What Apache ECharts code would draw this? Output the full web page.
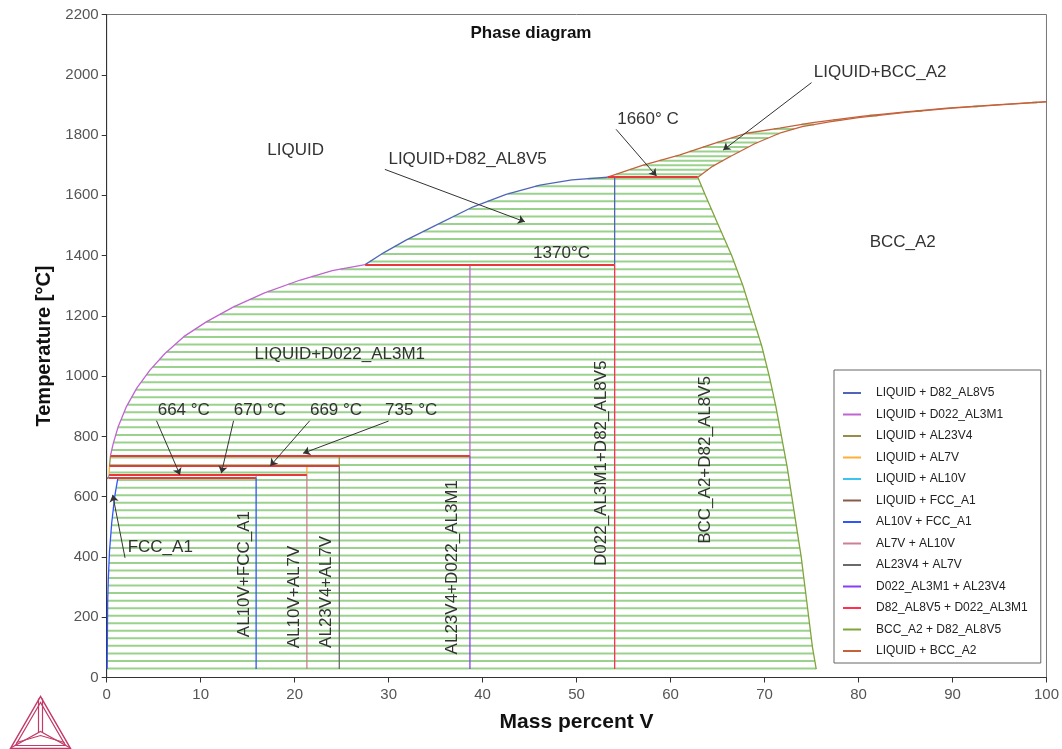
<!DOCTYPE html>
<html>
<head>
<meta charset="utf-8">
<script src="https://cdn.jsdelivr.net/npm/echarts@6/dist/echarts.min.js"></script>
<style>html,body{margin:0;padding:0;background:#fff}#chart{width:1062px;height:749px}</style>
</head>
<body>
<div id="chart"></div>
<script>
// ---- Al-V phase diagram data (x: mass percent V, y: temperature in °C) ----

// Compositions of the stoichiometric compounds
const AL10V = 15.9, AL7V = 21.3, AL23V4 = 24.75, D022 = 38.65, D82 = 54.05;
// Invariant temperatures
const T_EUT = 664, T_AL10V = 674, T_AL7V = 702, T_AL23V4 = 736, T_D022 = 1370, T_D82 = 1660;
// Lowest calculated temperature
const T_LOW = 28;

// Liquidus on the Al-rich side, through the low invariants
const liquidNearAl = [[0.0, 660], [0.2, 664], [0.25, 674], [0.3, 702], [0.4, 736]];
// Solubility limit of V in FCC_A1
const fccSolvus = [[0.05, 28], [0.1, 250], [0.17, 324], [0.3, 420], [0.53, 512], [0.85, 600], [1.2, 664]];
// Liquidus of D022_AL3M1
const liquidusD022 = [[0.4, 736], [0.7, 777], [1.2, 830], [2.1, 899], [3.2, 960], [4.6, 1020], [6.2, 1075], [8.2, 1131], [10.6, 1180], [13.5, 1230], [16.8, 1276], [20.6, 1319], [24.0, 1350], [27.5, 1370]];
// Liquidus of D82_AL8V5
const liquidusD82 = [[27.5, 1370], [29.5, 1410], [31.9, 1452], [35.0, 1500], [39.0, 1562], [42.5, 1603], [46.1, 1634], [49.5, 1651], [53.3, 1660]];
// BCC_A2 boundary of the BCC_A2 + D82_AL8V5 field
const bccSolvus = [[75.5, 28], [75.1, 100], [74.7, 200], [74.3, 300], [73.9, 400], [73.4, 500], [72.9, 600], [72.4, 700], [71.8, 800], [71.2, 900], [70.5, 1000], [69.7, 1100], [68.7, 1200], [67.7, 1300], [66.5, 1400], [65.1, 1500], [63.7, 1600], [62.9, 1660]];
// Liquidus and solidus of BCC_A2
const liquidusBcc = [[53.3, 1660], [57.0, 1699], [61.0, 1734], [64.5, 1771], [68.1, 1806], [71.6, 1823], [75.1, 1841], [80.5, 1863], [85.0, 1877], [89.4, 1889], [95.0, 1901], [100, 1911]];
const solidusBcc = [[62.9, 1660], [64.5, 1697], [66.3, 1728], [69.0, 1772], [71.6, 1806], [74.0, 1828], [76.9, 1844], [80.0, 1858], [85.0, 1875], [90.0, 1889], [95.0, 1900], [100, 1910]];

// Tie-line temperatures
const tieTemps = [30, 55, 80, 105, 130, 155, 180, 205, 230, 255, 280, 305, 330, 355, 380, 405, 430, 455, 480, 505,
  530, 555, 580, 605, 630, 655, 680, 705, 730, 755, 780, 805, 830, 855, 880, 905, 930, 955, 980, 1005,
  1030, 1055, 1080, 1105, 1130, 1155, 1180, 1205, 1230, 1255, 1280, 1305, 1330, 1355, 1380, 1405, 1430,
  1455, 1480, 1505, 1530, 1555, 1580, 1605, 1630, 1655];
const bccLiquidTieTemps = [1670, 1685, 1700, 1715, 1730, 1745, 1760, 1775, 1790, 1805, 1820, 1835, 1850, 1865, 1880, 1895, 1908];

// Invariant lines: [temperature, left composition, right composition]
const invariants = [
  [T_EUT, 0.2, AL10V], [T_AL10V, 0.25, AL7V], [T_AL7V, 0.3, AL23V4],
  [T_AL23V4, 0.4, D022], [T_D022, 27.5, D82], [T_D82, 53.3, 62.9]
];

// Legend entries (phase pairs of the boundaries)
const pairNames = ['LIQUID + D82_AL8V5', 'LIQUID + D022_AL3M1', 'LIQUID + AL23V4', 'LIQUID + AL7V', 'LIQUID + AL10V',
  'LIQUID + FCC_A1', 'AL10V + FCC_A1', 'AL7V + AL10V', 'AL23V4 + AL7V', 'D022_AL3M1 + AL23V4',
  'D82_AL8V5 + D022_AL3M1', 'BCC_A2 + D82_AL8V5', 'LIQUID + BCC_A2'];
const pairColors = ['#4f66b8', '#c064d2', '#9a8c48', '#ffae3a', '#3cc4f0', '#8a5a48', '#2f55ff', '#cc7f90',
  '#6a6a6a', '#8a3cf8', '#ff3050', '#7fa53c', '#c4623c'];

// Boundary pieces, each tagged with its phase pair
const boundaries = [
  ['LIQUID + D82_AL8V5', liquidusD82],
  ['LIQUID + D82_AL8V5', [[D82, T_D022], [D82, T_D82]]],
  ['LIQUID + D022_AL3M1', liquidusD022],
  ['LIQUID + D022_AL3M1', [[D022, T_AL23V4], [D022, T_D022]]],
  ['LIQUID + AL23V4', liquidNearAl.slice(3, 5)],
  ['LIQUID + AL23V4', [[AL23V4, T_AL7V], [AL23V4, T_AL23V4]]],
  ['LIQUID + AL7V', liquidNearAl.slice(2, 4)],
  ['LIQUID + AL7V', [[AL7V, T_AL10V], [AL7V, T_AL7V]]],
  ['LIQUID + AL10V', liquidNearAl.slice(1, 3)],
  ['LIQUID + AL10V', [[AL10V, T_EUT], [AL10V, T_AL10V]]],
  ['LIQUID + FCC_A1', liquidNearAl.slice(0, 2)],
  ['AL10V + FCC_A1', fccSolvus],
  ['AL10V + FCC_A1', [[AL10V, T_LOW], [AL10V, T_EUT]]],
  ['AL7V + AL10V', [[AL7V, T_LOW], [AL7V, T_AL10V]]],
  ['AL23V4 + AL7V', [[AL23V4, T_LOW], [AL23V4, T_AL7V]]],
  ['D022_AL3M1 + AL23V4', [[D022, T_LOW], [D022, T_AL23V4]]],
  ['D82_AL8V5 + D022_AL3M1', [[D82, T_LOW], [D82, T_D022]]],
  ['BCC_A2 + D82_AL8V5', bccSolvus],
  ['LIQUID + BCC_A2', liquidusBcc],
  ['LIQUID + BCC_A2', solidusBcc]
];

// Two-phase fields (closed outlines) and the tie-lines drawn across them
const phaseRegions = [
  { poly: fccSolvus.concat([[AL10V, T_EUT], [AL10V, T_LOW]]), ties: tieTemps },
  { poly: [[0.2, T_EUT], [AL10V, T_EUT], [AL10V, T_AL10V], [0.25, T_AL10V]], ties: tieTemps },
  { poly: [[AL10V, T_LOW], [AL7V, T_LOW], [AL7V, T_AL10V], [AL10V, T_AL10V]], ties: tieTemps },
  { poly: [[0.25, T_AL10V], [AL7V, T_AL10V], [AL7V, T_AL7V], [0.3, T_AL7V]], ties: tieTemps },
  { poly: [[AL7V, T_LOW], [AL23V4, T_LOW], [AL23V4, T_AL7V], [AL7V, T_AL7V]], ties: tieTemps },
  { poly: [[0.3, T_AL7V], [AL23V4, T_AL7V], [AL23V4, T_AL23V4], [0.4, T_AL23V4]], ties: tieTemps },
  { poly: [[AL23V4, T_LOW], [D022, T_LOW], [D022, T_AL23V4], [AL23V4, T_AL23V4]], ties: tieTemps },
  { poly: liquidusD022.concat([[D022, T_D022], [D022, T_AL23V4]]), ties: tieTemps },
  { poly: [[D022, T_LOW], [D82, T_LOW], [D82, T_D022], [D022, T_D022]], ties: tieTemps },
  { poly: liquidusD82.concat([[D82, T_D82], [D82, T_D022]]), ties: tieTemps },
  { poly: [[D82, T_LOW]].concat(bccSolvus, [[D82, T_D82]]), ties: tieTemps },
  { poly: liquidusBcc.concat(solidusBcc.slice().reverse()), ties: bccLiquidTieTemps }
];

// Text annotations and pointer arrows (placed in data coordinates)
const annotationLayout = [
  { text: 'LIQUID', at: [20.1, 1750] },
  { text: 'LIQUID+D82_AL8V5', at: [38.4, 1721] },
  { text: '1660° C', at: [57.6, 1853] },
  { text: 'LIQUID+BCC_A2', at: [82.3, 2008] },
  { text: 'BCC_A2', at: [84.7, 1445] },
  { text: '1370°C', at: [48.4, 1408] },
  { text: 'LIQUID+D022_AL3M1', at: [24.8, 1073] },
  { text: '664 °C', at: [8.2, 885] },
  { text: '670 °C', at: [16.3, 885] },
  { text: '669 °C', at: [24.4, 885] },
  { text: '735 °C', at: [32.4, 885] },
  { text: 'FCC_A1', at: [5.7, 432] },
  { text: 'AL10V+FCC_A1', at: [14.6, 343], vertical: true },
  { text: 'AL10V+AL7V', at: [20.0, 267], vertical: true },
  { text: 'AL23V4+AL7V', at: [23.4, 284], vertical: true },
  { text: 'AL23V4+D022_AL3M1', at: [36.8, 366], vertical: true },
  { text: 'D022_AL3M1+D82_AL8V5', at: [52.6, 711], vertical: true },
  { text: 'BCC_A2+D82_AL8V5', at: [63.7, 722], vertical: true }
];
const arrowLayout = [
  [[75.0, 1974], [65.6, 1750]],
  [[54.2, 1819], [58.5, 1664]],
  [[29.6, 1686], [44.5, 1512]],
  [[5.3, 852], [7.8, 672]],
  [[13.5, 852], [12.2, 678]],
  [[21.6, 852], [17.4, 702]],
  [[30.0, 851], [20.9, 744]],
  [[1.95, 397], [0.64, 606]]
];

const FONT = '"Liberation Sans", Arial, Helvetica, sans-serif';
const TIE_COLOR = 'rgba(92, 180, 70, 0.62)';

// Crossings of a horizontal line at temperature t with a closed outline
function crossings(poly, t) {
  const xs = [];
  for (let i = 0; i < poly.length; i++) {
    const a = poly[i], b = poly[(i + 1) % poly.length];
    if ((a[1] <= t && b[1] > t) || (b[1] <= t && a[1] > t)) {
      xs.push(a[0] + (t - a[1]) * (b[0] - a[0]) / (b[1] - a[1]));
    }
  }
  return xs.sort((p, q) => p - q);
}

const series = [];

// Tie-lines
series.push({
  type: 'custom',
  name: 'tie-lines',
  silent: true,
  z: 1,
  clip: true,
  data: phaseRegions.map((r, i) => [i]),
  encode: { x: 0 },
  renderItem: function (params, api) {
    const region = phaseRegions[api.value(0)];
    const children = [];
    region.ties.forEach(function (t) {
      const xs = crossings(region.poly, t);
      for (let k = 0; k + 1 < xs.length; k += 2) {
        const p1 = api.coord([xs[k], t]);
        const p2 = api.coord([xs[k + 1], t]);
        children.push({
          type: 'line',
          shape: { x1: p1[0], y1: p1[1], x2: p2[0], y2: p2[1] },
          style: { stroke: TIE_COLOR, lineWidth: 2 }
        });
      }
    });
    return { type: 'group', children: children };
  }
});

// Phase boundaries
boundaries.forEach(function (b) {
  const color = pairColors[pairNames.indexOf(b[0])];
  series.push({
    type: 'line',
    name: b[0],
    data: b[1],
    showSymbol: false,
    symbol: 'none',
    z: 3,
    lineStyle: { color: color, width: 1.3 },
    itemStyle: { color: color },
    silent: true
  });
});

// Invariant lines
series.push({
  type: 'lines',
  name: 'invariants',
  coordinateSystem: 'cartesian2d',
  z: 4,
  silent: true,
  lineStyle: { color: '#e8383c', width: 2, opacity: 1 },
  data: invariants.map(v => ({ coords: [[v[1], v[0]], [v[2], v[0]]] }))
});

// Pointer arrows
series.push({
  type: 'lines',
  name: 'pointers',
  coordinateSystem: 'cartesian2d',
  z: 6,
  silent: true,
  symbol: ['none', 'arrow'],
  symbolSize: 7,
  lineStyle: { color: '#333', width: 1, opacity: 1 },
  data: arrowLayout.map(a => ({ coords: a }))
});

// Region labels
series.push({
  type: 'custom',
  name: 'labels',
  silent: true,
  z: 7,
  clip: false,
  data: annotationLayout.map((a, i) => [i]),
  encode: { x: 0 },
  renderItem: function (params, api) {
    const a = annotationLayout[api.value(0)];
    const p = api.coord(a.at);
    return {
      type: 'text',
      x: p[0], y: p[1],
      rotation: a.vertical ? Math.PI / 2 : 0,
      style: {
        text: a.text,
        font: '17px ' + FONT,
        fill: '#333',
        align: 'center',
        verticalAlign: 'middle'
      }
    };
  }
});

const chart = echarts.init(document.getElementById('chart'), null, { renderer: 'canvas' });
chart.setOption({
  animation: false,
  backgroundColor: '#fff',
  textStyle: { fontFamily: FONT },
  title: {
    text: 'Phase diagram',
    left: 'center',
    top: 25,
    padding: 0,
    textStyle: { fontSize: 17, fontWeight: 'bold', color: '#111', fontFamily: FONT }
  },
  grid: {
    left: 106.7, right: 15.3, top: 14.5, bottom: 71.5,
    show: true, borderColor: '#777', borderWidth: 1, backgroundColor: 'transparent'
  },
  legend: {
    data: pairNames,
    orient: 'vertical',
    left: 834,
    top: 370,
    padding: [16, 13, 5, 9],
    itemGap: 7.5,
    itemWidth: 18,
    itemHeight: 2,
    icon: 'rect',
    borderColor: '#666',
    borderWidth: 1,
    backgroundColor: '#fff',
    selectedMode: false,
    textStyle: { fontSize: 12, color: '#222', lineHeight: 14, fontFamily: FONT, padding: [0, 0, 0, 10] }
  },
  xAxis: {
    type: 'value',
    min: 0, max: 100, interval: 10,
    name: 'Mass percent V',
    nameLocation: 'middle',
    nameGap: 34,
    nameTextStyle: { fontSize: 21, fontWeight: 'bold', color: '#111', fontFamily: FONT },
    axisLine: { show: true, lineStyle: { color: '#333', width: 1 } },
    axisTick: { show: true, inside: false, length: 5, lineStyle: { color: '#333' } },
    axisLabel: { fontSize: 15, color: '#555', margin: 10, fontFamily: FONT },
    splitLine: { show: false }
  },
  yAxis: {
    type: 'value',
    min: 0, max: 2200, interval: 200,
    name: 'Temperature [°C]',
    nameLocation: 'middle',
    nameGap: 46,
    nameRotate: 90,
    nameTextStyle: { fontSize: 20, fontWeight: 'bold', color: '#111', fontFamily: FONT },
    axisLine: { show: true, lineStyle: { color: '#333', width: 1 } },
    axisTick: { show: true, inside: false, length: 5, lineStyle: { color: '#333' } },
    axisLabel: { fontSize: 15, color: '#555', margin: 8, fontFamily: FONT, formatter: v => String(v) },
    splitLine: { show: false }
  },
  graphic: [{
    // Thermo-Calc style triangle mark
    type: 'group',
    left: 8, top: 694,
    children: [
      { type: 'polygon', shape: { points: [[31, 0], [1, 52], [61, 52]] }, style: { fill: 'none', stroke: '#c23a66', lineWidth: 1.5 } },
      { type: 'polygon', shape: { points: [[31, 6], [6, 49], [56, 49]] }, style: { fill: 'none', stroke: '#c23a66', lineWidth: 1.2 } },
      { type: 'polyline', shape: { points: [[29, 2], [29, 36]] }, style: { stroke: '#c23a66', lineWidth: 1.2 } },
      { type: 'polyline', shape: { points: [[33, 2], [33, 36]] }, style: { stroke: '#c23a66', lineWidth: 1.2 } },
      { type: 'polyline', shape: { points: [[2, 51], [31, 35], [60, 51]] }, style: { fill: 'none', stroke: '#c23a66', lineWidth: 1.2 } },
      { type: 'polyline', shape: { points: [[7, 46], [31, 39], [55, 46]] }, style: { fill: 'none', stroke: '#c23a66', lineWidth: 1.2 } }
    ]
  }],
  series: series
});
</script>
</body>
</html>
